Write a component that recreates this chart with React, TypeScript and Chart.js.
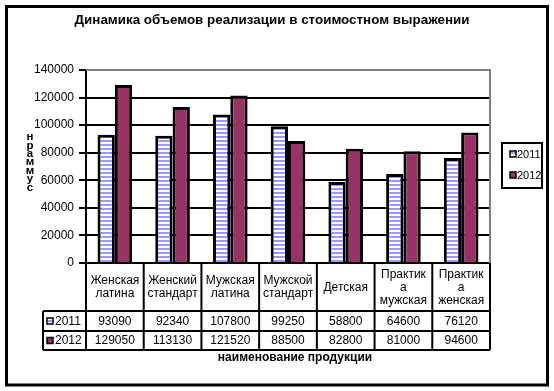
import React, { useEffect, useRef } from "react";
import { Chart, registerables } from "chart.js";

Chart.register(...registerables);

const TITLE = "Динамика объемов реализации в стоимостном выражении";
const X_TITLE = "наименование продукции";
const Y_TITLE_LETTERS = ["н", "р", "а", "м", "м", "у", "с"];
const categories: string[][] = [
  ["Женская", "латина"],
  ["Женский", "стандарт"],
  ["Мужская", "латина"],
  ["Мужской", "стандарт"],
  ["Детская"],
  ["Практик", "а", "мужская"],
  ["Практик", "а", "женская"],
];
const seriesNames = ["2011", "2012"];
const values2011 = [93090, 92340, 107800, 99250, 58800, 64600, 76120];
const values2012 = [129050, 113130, 121520, 88500, 82800, 81000, 94600];
const yTicks = [0, 20000, 40000, 60000, 80000, 100000, 120000, 140000];

const FONT = "'Liberation Sans', Arial, sans-serif";

function makeStripePattern(ctx: CanvasRenderingContext2D): CanvasPattern | string {
  const c = document.createElement("canvas");
  c.width = 4;
  c.height = 4;
  const p = c.getContext("2d");
  if (!p) return "#9999FF";
  p.fillStyle = "#FFFFFF";
  p.fillRect(0, 0, 4, 4);
  p.fillStyle = "#9999FF";
  p.fillRect(0, 0, 4, 2);
  return ctx.createPattern(c, "repeat") || "#9999FF";
}

export default function App() {
  const ref = useRef<HTMLCanvasElement | null>(null);

  useEffect(() => {
    const canvas = ref.current;
    if (!canvas) return;
    const ctx = canvas.getContext("2d");
    if (!ctx) return;
    const stripes = makeStripePattern(ctx);
    const fills: (CanvasPattern | string)[] = [stripes, "#993366"];
    const seriesValues = [values2011, values2012];

    const decorPlugin = {
      id: "decor",
      beforeDraw(chart: any) {
        const c = chart.ctx;
        c.save();
        c.fillStyle = "#FFFFFF";
        c.fillRect(0, 0, chart.width, chart.height);
        c.restore();
      },
      afterDraw(chart: any) {
        const c: CanvasRenderingContext2D = chart.ctx;
        const area = chart.chartArea;
        const xs = chart.scales.x;
        const n = categories.length;
        const colW = (area.right - area.left) / n;
        c.save();

        // plot area border (gray top and right)
        c.strokeStyle = "#808080";
        c.lineWidth = 2;
        c.beginPath();
        c.moveTo(area.left, area.top);
        c.lineTo(area.right, area.top);
        c.lineTo(area.right, area.bottom);
        c.stroke();

        // title
        c.fillStyle = "#000";
        c.font = `bold 13.4px ${FONT}`;
        c.textAlign = "center";
        c.textBaseline = "middle";
        c.fillText(TITLE, 272, 20);

        // y title stacked letters
        c.font = `bold 11.5px ${FONT}`;
        Y_TITLE_LETTERS.forEach((ch, i) => {
          c.fillText(ch, 30, 137 + i * 8.4);
        });

        // data table
        const top = area.bottom;
        const r1 = top + 48;
        const r2 = r1 + 20;
        const r3 = r2 + 19;
        const hdrLeft = 43;
        c.strokeStyle = "#000";
        c.lineWidth = 2;
        c.beginPath();
        for (let i = 0; i <= n; i++) {
          const x = area.left + i * colW;
          c.moveTo(x, top);
          c.lineTo(x, r3);
        }
        c.moveTo(hdrLeft, r1);
        c.lineTo(hdrLeft, r3);
        [r1, r2, r3].forEach((y) => {
          c.moveTo(hdrLeft, y);
          c.lineTo(area.right, y);
        });
        c.stroke();

        c.font = `12px ${FONT}`;
        c.fillStyle = "#000";
        c.textAlign = "center";
        const lh = 12.8;
        categories.forEach((lines, i) => {
          const cx = xs.getPixelForValue(i);
          const cy = (top + r1) / 2;
          const start = cy - ((lines.length - 1) * lh) / 2;
          lines.forEach((ln, j) => c.fillText(ln, cx, start + j * lh + 0.5));
        });
        const rowCenters = [(r1 + r2) / 2, (r2 + r3) / 2];
        seriesValues.forEach((vals, s) => {
          vals.forEach((v, i) => {
            c.fillText(String(v), xs.getPixelForValue(i), rowCenters[s] + 0.5);
          });
        });
        // row headers
        seriesNames.forEach((name, s) => {
          const cy = rowCenters[s];
          c.fillStyle = fills[s] as any;
          c.fillRect(47, cy - 3, 6, 6);
          c.strokeStyle = "#000";
          c.lineWidth = 1.5;
          c.strokeRect(47, cy - 3, 6, 6);
          c.fillStyle = "#000";
          c.textAlign = "left";
          c.fillText(name, 55, cy + 0.5);
        });

        // x title
        c.font = `bold 12px ${FONT}`;
        c.textAlign = "center";
        c.fillText(X_TITLE, 295, 358);

        // legend
        c.strokeStyle = "#000";
        c.lineWidth = 2;
        c.strokeRect(502, 143, 40, 45);
        c.font = `11px ${FONT}`;
        seriesNames.forEach((name, s) => {
          const cy = 154 + s * 21;
          c.fillStyle = fills[s] as any;
          c.fillRect(510, cy - 3, 6, 6);
          c.strokeStyle = "#000";
          c.lineWidth = 1.5;
          c.strokeRect(510, cy - 3, 6, 6);
          c.fillStyle = "#000";
          c.textAlign = "left";
          c.fillText(name, 517, cy + 0.5);
        });

        // outer border
        c.strokeStyle = "#000";
        c.lineWidth = 3;
        c.strokeRect(6.5, 6.5, 541, 378.5);
        c.restore();
      },
    };

    const chart = new Chart(ctx, {
      type: "bar",
      data: {
        labels: categories.map((c) => c.join(" ")),
        datasets: [
          {
            label: seriesNames[0],
            data: values2011,
            backgroundColor: stripes as any,
            borderColor: "#000",
            borderWidth: 3,
          },
          {
            label: seriesNames[1],
            data: values2012,
            backgroundColor: "#993366",
            borderColor: "#000",
            borderWidth: 3,
          },
        ],
      },
      options: {
        responsive: false,
        animation: false,
        events: [],
        layout: { padding: { left: 0, top: 70, right: 64, bottom: 0 } },
        datasets: { bar: { categoryPercentage: 0.6, barPercentage: 1.0 } },
        plugins: {
          legend: { display: false },
          title: { display: false },
          tooltip: { enabled: false },
        },
        scales: {
          x: {
            ticks: { display: false },
            grid: { display: false, drawTicks: false },
            border: { display: true, color: "#000", width: 2 },
            afterFit: (scale: any) => {
              scale.height = 128;
            },
          },
          y: {
            min: 0,
            max: 140000,
            afterBuildTicks: (scale: any) => {
              scale.ticks = yTicks.map((v) => ({ value: v }));
            },
            ticks: {
              color: "#000",
              font: { family: FONT, size: 12 },
              padding: 5,
              callback: (v: any) => String(v),
            },
            grid: { color: "#000", lineWidth: 2, tickLength: 7 },
            border: { display: true, color: "#000", width: 2 },
            afterFit: (scale: any) => {
              scale.width = 86;
            },
          },
        },
      },
      plugins: [decorPlugin],
    });
    return () => chart.destroy();
  }, []);

  return (
    <div style={{ position: "absolute", left: 0, top: 0, width: 554, height: 391, background: "#fff" }}>
      <canvas ref={ref} width={554} height={391} style={{ width: 554, height: 391, display: "block" }} />
    </div>
  );
}
